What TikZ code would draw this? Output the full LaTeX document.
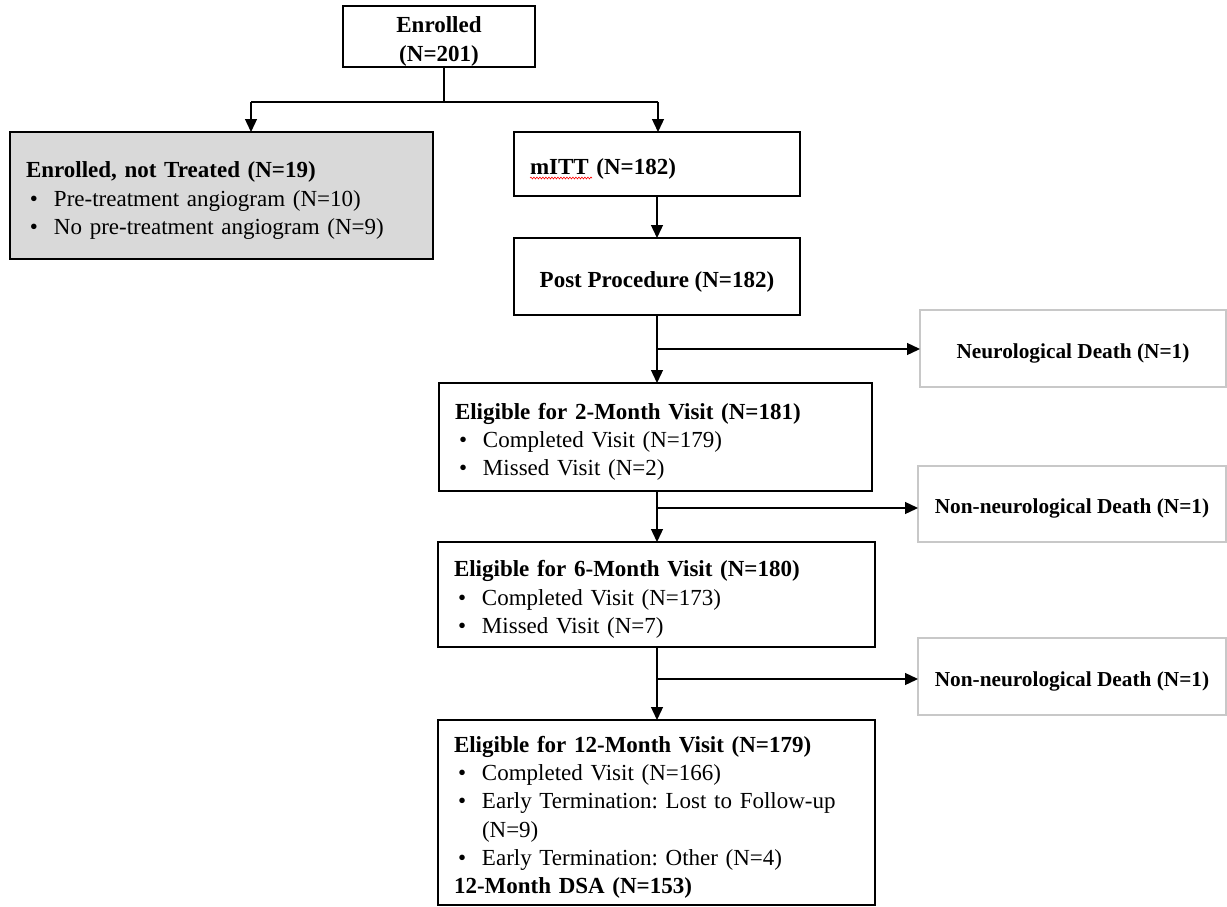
\documentclass[tikz,border=0pt]{standalone}
\usepackage{fontspec}
\setmainfont{Liberation Serif}
\usetikzlibrary{arrows.meta,decorations.pathmorphing}
\frenchspacing
\newcommand\fsMain{\fontsize{23}{28.2}\selectfont}
\newcommand\fsSide{\fontsize{21.3}{26}\selectfont}
\newcommand\bul{\hspace*{4pt}\makebox[24pt][l]{\textbullet}}
\newcommand\ind{\hspace*{28pt}}
\newcommand\tp{\rule{0pt}{26pt}}
\newcommand\tps{\rule{0pt}{24pt}}
\definecolor{boxgray}{RGB}{217,217,217}
\definecolor{sideline}{RGB}{200,200,200}
\begin{document}
\begin{tikzpicture}[x=1pt,y=-1pt,
  box/.style={draw=black, line width=2.3pt, inner sep=0pt, outer sep=0pt, font=\fsMain},
  leftbox/.style={box, align=left, text width=#1},
  sidebox/.style={draw=sideline, line width=2pt, inner sep=0pt, outer sep=0pt, font=\fsSide\bfseries, align=center},
  conn/.style={draw=black, line width=1.3pt},
  arr/.style={conn, -{Triangle[length=13pt,width=12pt]}}
]
\useasboundingbox (0,0) rectangle (1227,907);

% boxes
\node[box, align=center, minimum width=192pt, minimum height=61pt] (enr) at (439,36.5)
  {\tp\textbf{Enrolled}\\[1.5pt]\textbf{(N=201)}};
\node[leftbox=391pt, fill=boxgray, minimum width=423pt, minimum height=127pt] (nt) at (221.5,195.5)
  {\tp\textbf{Enrolled, not Treated (N=19)}\\
   \bul Pre-treatment angiogram (N=10)\\
   \bul No pre-treatment angiogram (N=9)};
\node[leftbox=254pt, minimum width=286pt, minimum height=64pt] (mitt) at (657,164)
  {\tp\textbf{mITT (N=182)}};
\node[box, align=center, minimum width=286pt, minimum height=77pt] (post) at (657,276.5)
  {\tp\textbf{Post Procedure (N=182)}};
\node[sidebox, minimum width=306pt, minimum height=77pt] (neuro) at (1073,348.5)
  {\tps Neurological Death (N=1)};
\node[leftbox=401pt, minimum width=433pt, minimum height=108pt] (m2) at (655.5,437)
  {\tp\textbf{Eligible for 2-Month Visit (N=181)}\\
   \bul Completed Visit (N=179)\\
   \bul Missed Visit (N=2)};
\node[sidebox, minimum width=308pt, minimum height=76pt] (nn1) at (1072,504)
  {\tps Non-neurological Death (N=1)};
\node[leftbox=405pt, minimum width=437pt, minimum height=105pt] (m6) at (656.5,594.5)
  {\tp\textbf{Eligible for 6-Month Visit (N=180)}\\
   \bul Completed Visit (N=173)\\
   \bul Missed Visit (N=7)};
\node[sidebox, minimum width=308pt, minimum height=77pt] (nn2) at (1072,676.5)
  {\tps Non-neurological Death (N=1)};
\node[leftbox=405pt, minimum width=437pt, minimum height=185pt] (m12) at (656.5,812.5)
  {\tp\textbf{Eligible for 12-Month Visit (N=179)}\\
   \bul Completed Visit (N=166)\\
   \bul Early Termination: Lost to Follow-up\\
   \ind (N=9)\\
   \bul Early Termination: Other (N=4)\\
   \textbf{12-Month DSA (N=153)}};

% spell-check squiggle under mITT
\coordinate (sqa) at (530,178);
\coordinate (sqb) at (592,178);
\draw[red, line width=0.6pt, decorate, decoration={snake, amplitude=0.9pt, segment length=3pt}] (sqa) -- (sqb);

% connectors
\coordinate (ja) at (444,102);
\coordinate (jl) at (251,102);
\coordinate (jr) at (658,102);
\draw[conn] (enr.south -| ja) -- (ja);
\draw[conn] (jl) -- (jr);
\draw[arr] (jl) -- (jl |- nt.north);
\draw[arr] (jr) -- (jr |- mitt.north);

\coordinate (cx) at (657,0);
\draw[arr] (mitt.south -| cx) -- (post.north -| cx);

\coordinate (b1) at (657,349);
\draw[arr] (post.south -| cx) -- (m2.north -| cx);
\draw[arr] (b1) -- (b1 -| neuro.west);

\coordinate (b2) at (657,508);
\draw[arr] (m2.south -| cx) -- (m6.north -| cx);
\draw[arr] (b2) -- (b2 -| nn1.west);

\coordinate (b3) at (657,679);
\draw[arr] (m6.south -| cx) -- (m12.north -| cx);
\draw[arr] (b3) -- (b3 -| nn2.west);
\end{tikzpicture}
\end{document}
